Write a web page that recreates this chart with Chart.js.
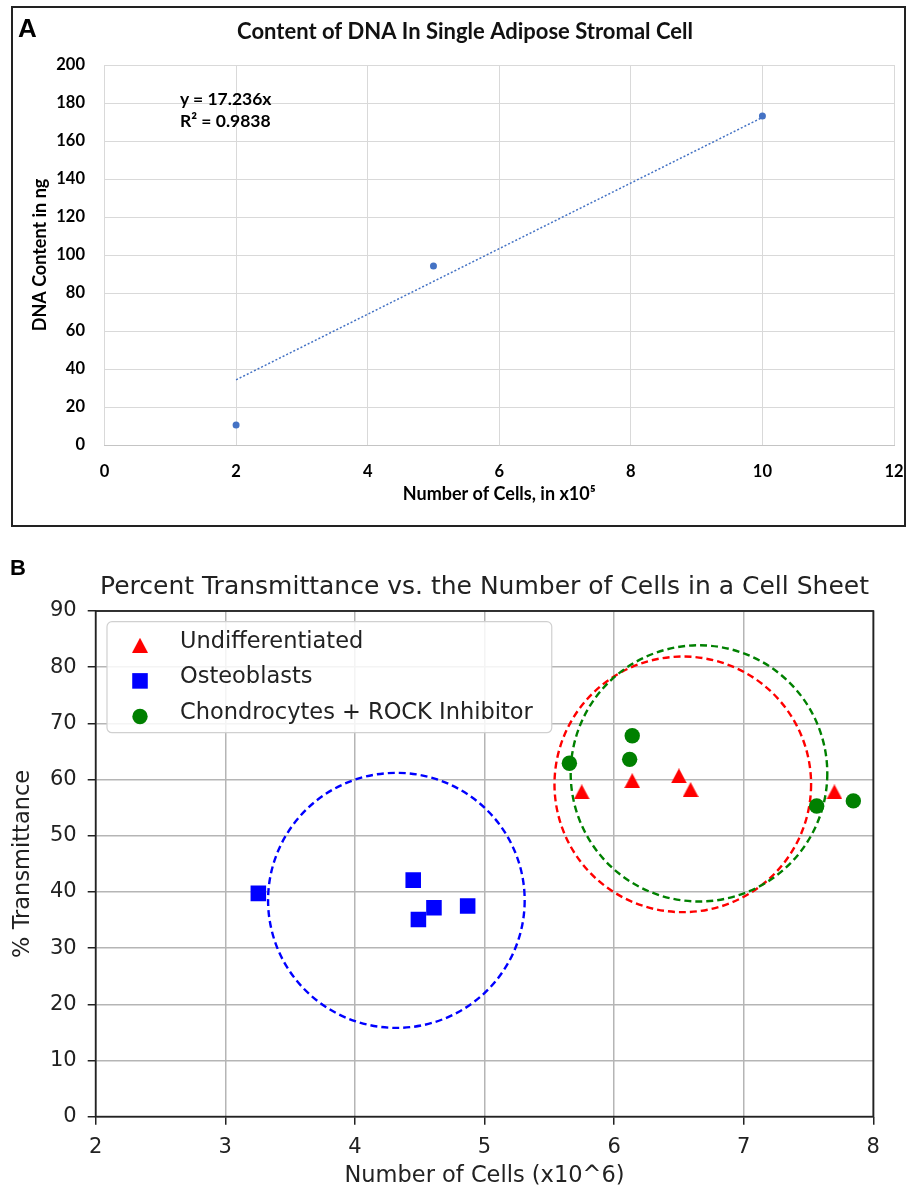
<!DOCTYPE html>
<html>
<head>
<meta charset="utf-8">
<script src="https://cdn.jsdelivr.net/npm/chart.js@4.4.1/dist/chart.umd.min.js"></script>
<style>
  body { margin: 0; background: #fff; width: 908px; height: 1190px; position: relative; overflow: hidden; }
  #frameA { position: absolute; left: 11px; top: 6px; width: 891px; height: 517px; border: 2px solid #222; }
  #chartA { position: absolute; left: 0; top: 0; }
  #chartB { position: absolute; left: 0; top: 540px; }
  .tag { position: absolute; font-family: "Liberation Sans", Arial, sans-serif; font-weight: bold; color: #000; line-height: 1; }
  #eq { position: absolute; left: 180px; top: 88px; font-family: Lato, sans-serif; font-weight: bold; font-size: 17.5px; line-height: 22px; color: #000; }
</style>
</head>
<body>
<div id="frameA"></div>
<canvas id="chartA" width="908" height="540"></canvas>
<div class="tag" style="left:18px; top:15px; font-size:26px;">A</div>
<div id="eq">y = 17.236x<br>R² = 0.9838</div>
<canvas id="chartB" width="908" height="650"></canvas>
<div class="tag" style="left:10px; top:557px; font-size:22px;">B</div>
<script>
// ---- panel A: DNA content ----
const dnaCells = [2, 5, 10];
const dnaContent = [10.5, 94.2, 173.2];
const trendCells = [2, 10];
const trendContent = [34.3, 172.4];
const aXTicks = [0, 2, 4, 6, 8, 10, 12];
const aYTicks = [0, 20, 40, 60, 80, 100, 120, 140, 160, 180, 200];

// ---- panel B: transmittance ----
const undiffCells = [5.75, 6.14, 6.50, 6.59, 7.70];
const undiffTrans = [57.8, 59.8, 60.65, 58.2, 57.8];
const osteoCells = [3.255, 4.45, 4.49, 4.61, 4.87];
const osteoTrans = [39.75, 42.1, 35.1, 37.2, 37.5];
const chondroCells = [5.655, 6.14, 6.12, 7.563, 7.846];
const chondroTrans = [62.9, 67.8, 63.6, 55.3, 56.2];
const bXTicks = [2, 3, 4, 5, 6, 7, 8];
const bYTicks = [0, 10, 20, 30, 40, 50, 60, 70, 80, 90];

// dashed group circles (centre and radius in data units)
const circleCx = [4.32, 6.53, 6.655];
const circleCy = [38.5, 59.15, 61.1];
const circleRx = [0.99, 0.99, 0.99];
const circleRy = [22.7, 22.75, 22.8];
const circleColors = ['#0000ff', '#ff0000', '#008000'];

const pts = (xs, ys) => xs.map((x, i) => ({ x, y: ys[i] }));
const setTicks = (vals) => (s) => { s.ticks = vals.map(v => ({ value: v })); };

// matplotlib style triangle, centred on its bounding box
function triangleImg(color, w, h) {
    const c = document.createElement('canvas');
    c.width = w; c.height = h;
    const g = c.getContext('2d');
    g.fillStyle = color;
    g.beginPath();
    g.moveTo(w / 2, 0); g.lineTo(w, h); g.lineTo(0, h);
    g.closePath(); g.fill();
    return c;
}
const redTri = triangleImg('#ff0000', 16, 15);

const fontA = 'Lato, sans-serif';
const fontB = '"DejaVu Sans", sans-serif';

// chart title drawn at a given spot (x: 'area' centres it on the plot area)
const titlePlugin = {
    id: 'chartTitle',
    afterDraw(chart, args, opts) {
        const { ctx, chartArea } = chart;
        const x = opts.x === 'area' ? (chartArea.left + chartArea.right) / 2 : opts.x;
        ctx.save();
        ctx.font = opts.font;
        ctx.fillStyle = opts.color;
        ctx.textAlign = 'center';
        ctx.textBaseline = 'middle';
        ctx.fillText(opts.text, x, opts.y);
        ctx.restore();
    }
};

new Chart(document.getElementById('chartA'), {
    type: 'scatter',
    data: {
        datasets: [
            {
                label: 'DNA',
                data: pts(dnaCells, dnaContent),
                pointRadius: 3.5,
                pointBackgroundColor: '#4472c4',
                pointBorderWidth: 0
            },
            {
                type: 'line',
                label: 'Linear',
                data: pts(trendCells, trendContent),
                borderColor: '#4472c4',
                borderWidth: 1.5,
                borderDash: [2, 2],
                pointRadius: 0,
                fill: false
            }
        ]
    },
    options: {
        responsive: false,
        animation: false,
        layout: { padding: { left: 0, right: 14, top: 65, bottom: 0 } },
        plugins: {
            legend: { display: false },
            tooltip: { enabled: false },
            chartTitle: {
                text: 'Content of DNA In Single Adipose Stromal Cell',
                font: 'bold 22px ' + fontA,
                color: '#111',
                x: 465, y: 32
            }
        },
        scales: {
            x: {
                type: 'linear', min: 0, max: 12,
                afterBuildTicks: setTicks(aXTicks),
                afterFit: (s) => { s.height = 95; s.paddingLeft = 0; s.paddingRight = 0; },
                grid: { color: '#d9d9d9', lineWidth: 1, drawTicks: false },
                border: { display: true, color: '#c4c4c4', width: 1 },
                ticks: { color: '#000', padding: 17, font: { family: fontA, size: 16.5, weight: 'bold' } },
                title: {
                    display: true,
                    text: 'Number of Cells, in x10⁵',
                    color: '#000',
                    font: { family: fontA, size: 18, weight: 'bold' },
                    padding: { top: 0, bottom: 35.2 }
                }
            },
            y: {
                type: 'linear', min: 0, max: 200,
                afterBuildTicks: setTicks(aYTicks),
                afterFit: (s) => { s.width = 104.5; },
                grid: { color: '#d9d9d9', lineWidth: 1, drawTicks: false },
                border: { display: false },
                ticks: { color: '#000', padding: 19.5, font: { family: fontA, size: 16.5, weight: 'bold' } },
                title: {
                    display: true,
                    text: 'DNA Content in ng',
                    color: '#000',
                    font: { family: fontA, size: 18, weight: 'bold' },
                    padding: { top: 29.2, bottom: 0 }
                }
            }
        }
    },
    plugins: [titlePlugin]
});

// draws the dashed group circles under the markers
const circlePlugin = {
    id: 'groupCircles',
    beforeDatasetsDraw(chart) {
        const { ctx, scales: { x, y }, chartArea } = chart;
        ctx.save();
        ctx.beginPath();
        ctx.rect(chartArea.left, chartArea.top, chartArea.width, chartArea.height);
        ctx.clip();
        ctx.lineWidth = 2.4;
        ctx.setLineDash([7, 4]);
        circleCx.forEach((cx, i) => {
            const px = x.getPixelForValue(cx);
            const py = y.getPixelForValue(circleCy[i]);
            const rx = Math.abs(x.getPixelForValue(cx + circleRx[i]) - px);
            const ry = Math.abs(y.getPixelForValue(circleCy[i] + circleRy[i]) - py);
            ctx.strokeStyle = circleColors[i];
            ctx.beginPath();
            ctx.ellipse(px, py, rx, ry, 0, 0, Math.PI * 2);
            ctx.stroke();
        });
        ctx.restore();
    }
};

function drawMarker(ctx, ds, x, y) {
    const style = ds.pointStyle;
    ctx.fillStyle = ds.pointBackgroundColor;
    if (style instanceof HTMLCanvasElement) {
        ctx.drawImage(style, x - style.width / 2, y - style.height / 2);
    } else if (style === 'rect') {
        const h = ds.pointRadius * Math.SQRT1_2;
        ctx.fillRect(x - h, y - h, 2 * h, 2 * h);
    } else {
        ctx.beginPath();
        ctx.arc(x, y, ds.pointRadius, 0, Math.PI * 2);
        ctx.fill();
    }
}

// axes frame plus matplotlib-like legend in the upper left corner
const framePlugin = {
    id: 'frameLegend',
    afterDatasetsDraw(chart) {
        const { ctx, chartArea } = chart;
        ctx.save();
        ctx.strokeStyle = '#222';
        ctx.lineWidth = 1.8;
        ctx.strokeRect(chartArea.left, chartArea.top, chartArea.width, chartArea.height);

        const sets = chart.data.datasets;
        ctx.font = '22.5px ' + fontB;
        const textW = Math.max(...sets.map(d => ctx.measureText(d.label).width));
        const bx = chartArea.left + 11.3;
        const by = chartArea.top + 10.7;
        const bw = 73 + textW + 19;
        const bh = 111;
        ctx.beginPath();
        ctx.roundRect(bx, by, bw, bh, 5);
        ctx.fillStyle = 'rgba(255,255,255,0.85)';
        ctx.fill();
        ctx.strokeStyle = '#d0d0d0';
        ctx.lineWidth = 1.2;
        ctx.stroke();
        sets.forEach((d, i) => {
            const my = by + 23.6 + i * 35.6;
            drawMarker(ctx, d, bx + 33, my);
            ctx.fillStyle = '#222';
            ctx.textAlign = 'left';
            ctx.textBaseline = 'middle';
            ctx.fillText(d.label, bx + 73, my - 3.5);
        });
        ctx.restore();
    }
};

new Chart(document.getElementById('chartB'), {
    type: 'scatter',
    data: {
        datasets: [
            {
                label: 'Undifferentiated',
                data: pts(undiffCells, undiffTrans),
                pointStyle: redTri,
                pointRadius: 8,
                pointBackgroundColor: '#ff0000'
            },
            {
                label: 'Osteoblasts',
                data: pts(osteoCells, osteoTrans),
                pointStyle: 'rect',
                pointRadius: 11,
                pointBorderWidth: 0,
                pointBackgroundColor: '#0000ff'
            },
            {
                label: 'Chondrocytes + ROCK Inhibitor',
                data: pts(chondroCells, chondroTrans),
                pointStyle: 'circle',
                pointRadius: 7.7,
                pointBorderWidth: 0,
                pointBackgroundColor: '#008000'
            }
        ]
    },
    options: {
        responsive: false,
        animation: false,
        layout: { padding: { left: 0, right: 34.7, top: 71, bottom: 0 } },
        plugins: {
            legend: { display: false },
            tooltip: { enabled: false },
            chartTitle: {
                text: 'Percent Transmittance vs. the Number of Cells in a Cell Sheet',
                font: '25px ' + fontB,
                color: '#222',
                x: 'area', y: 47.5
            }
        },
        scales: {
            x: {
                type: 'linear', min: 2, max: 8,
                afterBuildTicks: setTicks(bXTicks),
                afterFit: (s) => { s.height = 73.3; s.paddingLeft = 0; s.paddingRight = 0; },
                grid: { color: '#b5b5b5', lineWidth: 1.5, tickColor: '#222', tickLength: 8, tickWidth: 1.5 },
                border: { display: false },
                ticks: { color: '#222', padding: 10.5, font: { family: fontB, size: 21 } },
                title: {
                    display: true,
                    text: 'Number of Cells (x10^6)',
                    color: '#222',
                    font: { family: fontB, size: 22.5 },
                    padding: { top: 0, bottom: 0 }
                }
            },
            y: {
                type: 'linear', min: 0, max: 90,
                afterBuildTicks: setTicks(bYTicks),
                afterFit: (s) => { s.width = 95.7; },
                grid: { color: '#b5b5b5', lineWidth: 1.5, tickColor: '#222', tickLength: 8, tickWidth: 1.5 },
                border: { display: false },
                ticks: { color: '#222', padding: 11, font: { family: fontB, size: 21 } },
                title: {
                    display: true,
                    text: '% Transmittance',
                    color: '#222',
                    font: { family: fontB, size: 22.5 },
                    padding: { top: 9.5, bottom: 0 }
                }
            }
        }
    },
    plugins: [circlePlugin, framePlugin, titlePlugin]
});
</script>
</body>
</html>
